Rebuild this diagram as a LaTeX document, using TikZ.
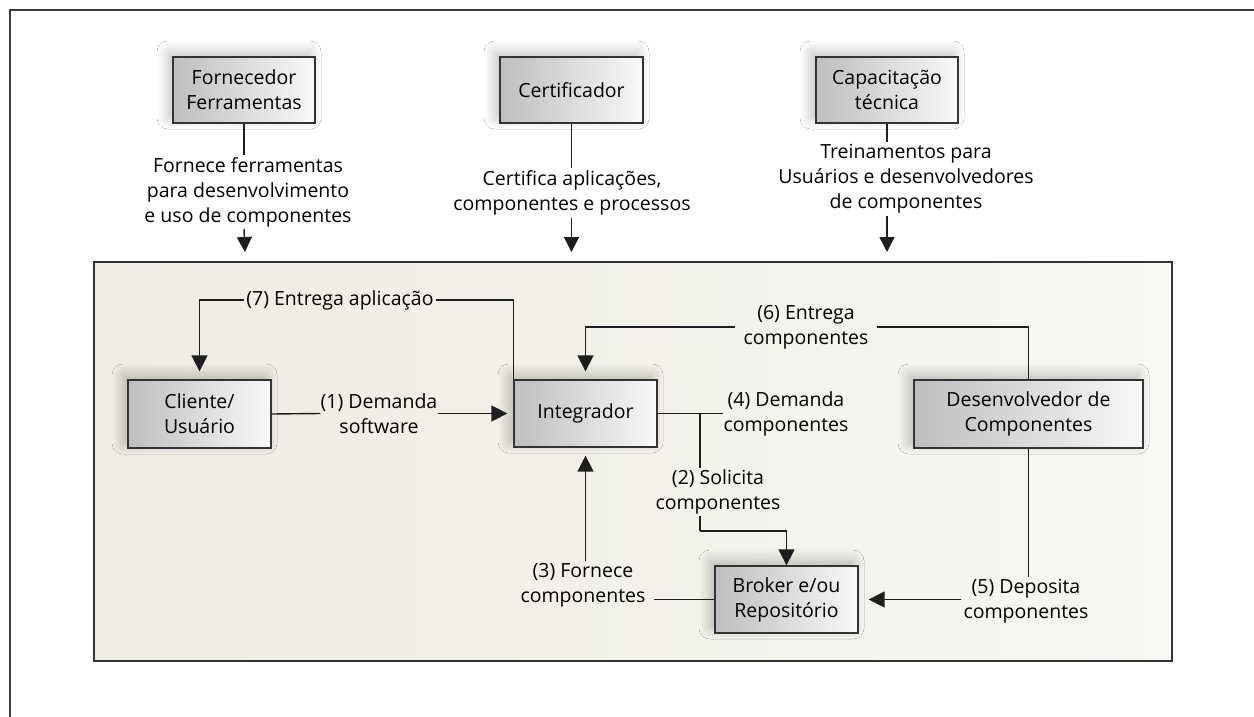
\documentclass[tikz,border=0pt]{standalone}
\usepackage{fontspec}
\setmainfont{Open Sans}
\usetikzlibrary{arrows.meta,shadows.blur,calc}
\definecolor{linec}{HTML}{1E1E1E}
\definecolor{textc}{HTML}{000000}
\definecolor{boxb}{HTML}{333333}
\definecolor{boxl}{HTML}{BEBEBE}
\definecolor{boxr}{HTML}{F8F8F8}
\definecolor{areal}{HTML}{EEEBE1}
\definecolor{arear}{HTML}{F7F7F3}
\definecolor{framec}{HTML}{3A3A3A}
\begin{document}
\begin{tikzpicture}[x=1pt,y=-1pt,
  font=\fontsize{19.5pt}{25pt}\selectfont,
  box/.style={draw=boxb, line width=1.3pt, left color=boxl, right color=boxr,
    align=center, inner sep=0pt, text=textc,
    blur shadow={shadow xshift=-5pt, shadow yshift=5pt, shadow blur radius=11pt,
      shadow blur steps=14, shadow opacity=25}},
  lbl/.style={align=center, inner xsep=#1, inner ysep=2pt, text=textc},
  lbl/.default=2pt,
  ln/.style={draw=linec, line width=1.4pt},
  arr/.style={ln, -{Triangle[length=16pt,width=16pt]}},
  arrT/.style={ln, -{Triangle[length=15pt,width=15pt]}}
]
\useasboundingbox (0,0) rectangle (1254,717);
\fill[white] (0,0) rectangle (1254,717);
\draw[framec, line width=2pt] (10,720) -- (10,10) -- (1260,10);

% top boxes
\node[box, minimum width=142pt, minimum height=66pt] (forn) at (244,90) {Fornecedor\\Ferramentas};
\node[box, minimum width=143pt, minimum height=66pt] (cert) at (571.5,90) {Certificador};
\node[box, minimum width=142pt, minimum height=66pt] (capa) at (887,90) {Capacitação\\técnica};

\node[lbl] (lf) at (248,192) {Fornece ferramentas\\para desenvolvimento\\e uso de componentes};
\node[lbl] (lc) at (572,193) {Certifica aplicações,\\componentes e processos};
\node[lbl] (lt) at (906,179) {Treinamentos para\\Usuários e desenvolvedores\\de componentes};

\coordinate (af) at (245,252);
\coordinate (ac) at (571.5,252);
\coordinate (at) at (887,252);
\draw[ln] (forn.south) -- (forn.south |- lf.north);
\draw[arrT] (forn.south |- lf.south) -- (af);
\draw[ln] (cert.south) -- (cert.south |- lc.north);
\draw[arrT] (cert.south |- lc.south) -- (ac);
\draw[ln] (capa.south) -- (capa.south |- lt.north);
\draw[arrT] (capa.south |- lt.south) -- (at);

% main area
\node[draw=boxb, line width=1.3pt, left color=areal, right color=arear,
  minimum width=1078pt, minimum height=399pt, inner sep=0pt] (area) at (633,461.5) {};

% inner boxes
\node[box, minimum width=143pt, minimum height=68pt] (cli) at (199.5,414) {Cliente/\\Usuário};
\node[box, minimum width=143pt, minimum height=67pt] (integ) at (585.5,413.5) {Integrador};
\node[box, minimum width=229pt, minimum height=68pt] (desen) at (1028.5,414) {Desenvolvedor de\\Componentes};
\node[box, minimum width=143pt, minimum height=67pt] (broker) at (786.5,599.5) {Broker e/ou\\Repositório};

% labels
\node[lbl] (lab7) at (340,300) {(7) Entrega aplicação};
\node[lbl=0pt] (lab1) at (379,413.5) {(1) Demanda\\software};
\node[lbl=8pt] (lab6) at (806,327) {(6) Entrega\\componentes};
\node[lbl=0pt] (lab4) at (786,413.5) {(4) Demanda\\componentes};
\node[lbl] (lab2) at (718,492) {(2) Solicita\\componentes};
\node[lbl=8pt] (lab3) at (583,585) {(3) Fornece\\componentes};
\node[lbl] (lab5) at (1026,601) {(5) Deposita\\componentes};

% connectors
\draw[ln] (integ.north west) |- (lab7.east);
\draw[arr, shorten >=8pt] (lab7.west) -| (cli.north);

\draw[ln] (cli.east) -- (lab1.west);
\draw[arr, shorten >=6pt] (lab1.east) -- (integ.west);

\draw[ln] (desen.north) |- (lab6.east);
\draw[arr, shorten >=8pt] (lab6.west) -| (integ.north);

\coordinate (j4) at (700,413.5);
\coordinate (k2) at (700,531);
\draw[ln] (integ.east) -- (lab4.west);
\draw[ln] (j4) -- (j4 |- lab2.north);
\draw[ln] (j4 |- lab2.south) -- (k2);
\draw[arr] (k2) -| (broker.north);

\draw[ln] (broker.west) -- (broker.west -| lab3.east);
\draw[arr, shorten >=8pt] (integ.south |- lab3.north) -- (integ.south);

\draw[ln] (desen.south) -- (desen.south |- lab5.north);
\draw[arr, shorten >=10pt] (broker.east -| lab5.west) -- (broker.east);
\end{tikzpicture}
\end{document}
